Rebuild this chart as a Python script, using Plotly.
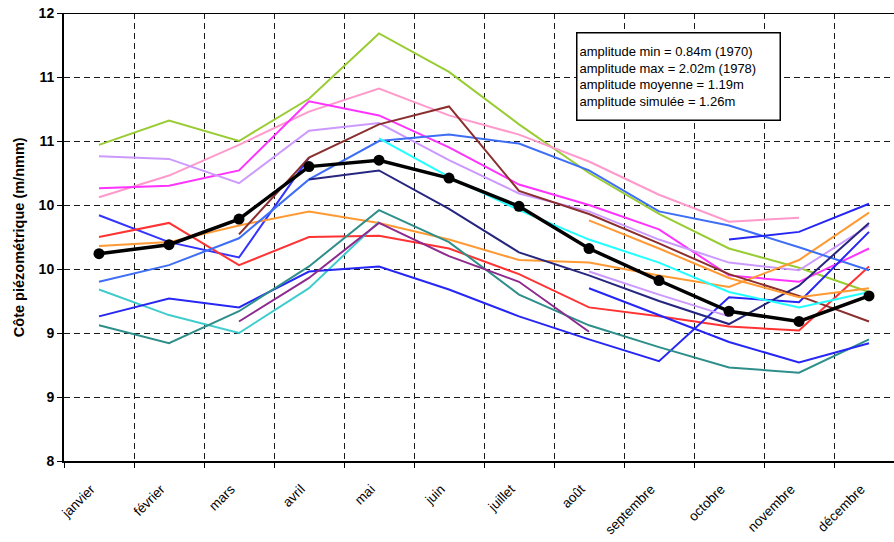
import plotly.graph_objects as go

# Mois de l'année hydrologique affichée
mois = ["janvier", "février", "mars", "avril", "mai", "juin", "juillet",
        "août", "septembre", "octobre", "novembre", "décembre"]

# Graduations de l'axe des cotes (libellés arrondis à l'unité)
cotes_ticks = [8.0, 8.5, 9.0, 9.5, 10.0, 10.5, 11.0, 11.5]
cotes_labels = ["8", "9", "9", "10", "10", "11", "11", "12"]

# Cotes piézométriques mensuelles observées (m), une liste par chronique
chron_vert = [10.47, 10.66, 10.50, 10.83, 11.34, 11.04, 10.63, 10.25, 9.93, 9.66, 9.51, 9.32]
chron_rose = [10.06, 10.23, 10.47, 10.73, 10.91, 10.70, 10.55, 10.34, 10.08, 9.87, 9.90, None]
chron_magenta = [10.13, 10.15, 10.27, 10.81, 10.70, 10.45, 10.16, 10.00, 9.81, 9.45, 9.40, 9.66]
chron_lavande = [10.38, 10.36, 10.17, 10.58, 10.64, 10.35, 10.09, 9.95, 9.73, 9.55, 9.49, 9.84]
chron_bleu_a = [9.92, 9.71, 9.59, 10.37, None, None, None, None, None, None, None, None]
chron_rouge = [9.75, 9.86, 9.53, 9.75, 9.76, 9.66, 9.46, 9.20, 9.13, 9.05, 9.02, 9.52]
chron_orange = [9.68, 9.71, 9.84, 9.95, 9.86, 9.73, 9.57, 9.55, 9.45, 9.36, 9.57, 9.94]
chron_bleuet = [9.40, 9.53, 9.74, 10.20, 10.50, 10.55, 10.48, 10.27, 9.95, 9.84, 9.67, 9.49]
chron_turquoise = [9.34, 9.14, 9.00, 9.35, 9.87, None, None, None, None, None, None, None]
chron_bleu_b = [9.13, 9.27, 9.20, 9.48, 9.52, 9.34, 9.13, 8.95, 8.78, 9.28, 9.24, 9.79]
chron_sarcelle = [9.06, 8.92, 9.17, 9.52, 9.96, 9.71, 9.30, 9.06, 8.89, 8.73, 8.69, 8.95]
chron_violet = [None, None, 9.09, 9.43, 9.86, 9.60, 9.40, 9.01, None, None, None, None]
chron_brun = [None, None, 9.77, 10.37, 10.63, 10.77, 10.11, 9.93, 9.70, 9.46, 9.29, 9.09]
chron_marine = [None, None, None, 10.20, 10.27, 9.97, 9.63, 9.45, 9.25, 9.07, 9.37, 9.86]
chron_cyan = [None, None, None, None, 10.52, 10.22, 9.96, 9.73, 9.55, 9.32, 9.20, 9.32]
chron_lavande_b = [None, None, None, None, None, None, None, 9.48, 9.30, 9.13, None, None]
chron_orange_b = [None, None, None, None, None, None, None, 9.88, 9.66, 9.43, 9.28, 9.35]
chron_bleu_c = [None, None, None, None, None, None, None, 9.35, 9.14, 8.93, 8.77, 8.92]
chron_bleu_d = [None, None, None, None, None, None, None, None, None, 9.73, 9.79, 10.01]

# Cotes simulées (m)
simulee = [9.62, 9.69, 9.89, 10.30, 10.35, 10.21, 9.99, 9.66, 9.41, 9.17, 9.09, 9.29]

texte_amplitudes = ("amplitude min = 0.84m (1970)<br>"
                    "amplitude max = 2.02m (1978)<br>"
                    "amplitude moyenne = 1.19m<br>"
                    "amplitude simulée = 1.26m")

chroniques = [
    (chron_vert, "#99CC33"),
    (chron_rose, "#FF99CC"),
    (chron_magenta, "#FF33FF"),
    (chron_lavande, "#CC99FF"),
    (chron_bleu_a, "#3333FF"),
    (chron_rouge, "#FF3333"),
    (chron_orange, "#FF9933"),
    (chron_bleuet, "#3D6EF5"),
    (chron_turquoise, "#40CCCC"),
    (chron_bleu_b, "#2626F5"),
    (chron_sarcelle, "#2E8F8A"),
    (chron_violet, "#8E2A8E"),
    (chron_brun, "#8B2E2E"),
    (chron_marine, "#262680"),
    (chron_cyan, "#22FFFF"),
    (chron_lavande_b, "#CC99FF"),
    (chron_orange_b, "#FF9933"),
    (chron_bleu_c, "#2626F5"),
    (chron_bleu_d, "#2626F5"),
]

police = "Arial, Liberation Sans, sans-serif"

fig = go.Figure()
for valeurs, couleur in chroniques:
    fig.add_trace(go.Scatter(
        x=mois, y=valeurs, mode="lines",
        line=dict(color=couleur, width=2),
        connectgaps=False, hoverinfo="skip",
    ))

fig.add_trace(go.Scatter(
    x=mois, y=simulee, mode="lines+markers",
    line=dict(color="black", width=3.5),
    marker=dict(size=11, color="black"),
    hoverinfo="skip",
))

grille = dict(showgrid=True, gridcolor="#1a1a1a", gridwidth=1, griddash="6px,4px")

fig.update_layout(
    width=894, height=542,
    margin=dict(l=64, r=0, t=13, b=81),
    paper_bgcolor="white", plot_bgcolor="white",
    showlegend=False,
    font=dict(family=police, color="black"),
    xaxis=dict(
        type="category", range=[-0.5, 11.357], automargin=False,
        tickson="boundaries", ticks="outside", ticklen=5, tickcolor="black",
        showline=True, linecolor="black", linewidth=2,
        tickangle=-45, tickfont=dict(size=13.5, family=police),
        ticklabelstandoff=13, ticklabelshift=-8,
        zeroline=False, **grille,
    ),
    yaxis=dict(
        range=[8, 11.5], tickvals=cotes_ticks, ticktext=cotes_labels, automargin=False,
        ticks="outside", ticklen=5, tickcolor="black",
        showline=True, linecolor="black", linewidth=2,
        tickfont=dict(size=14, family=police, weight="bold"),
        zeroline=False, **grille,
    ),
    shapes=[dict(type="line", xref="paper", yref="y", x0=0, x1=1, y0=11.5, y1=11.5,
                 line=dict(color="black", width=2))],
    annotations=[
        dict(text="<b>Côte piézométrique (m/nmm)</b>", textangle=-90,
             xref="paper", yref="paper", x=-0.054, y=0.5,
             xanchor="center", yanchor="middle", showarrow=False,
             font=dict(size=14.5, family=police)),
        dict(text=texte_amplitudes, xref="paper", yref="paper",
             x=(576 - 64) / 830, y=(461 - 32) / 448,
             xanchor="left", yanchor="top", align="left", valign="middle",
             showarrow=False, bgcolor="white", bordercolor="black", borderwidth=1.5,
             borderpad=2, width=198, height=82,
             font=dict(size=13, family=police)),
    ],
)

fig.write_html("out.html")
